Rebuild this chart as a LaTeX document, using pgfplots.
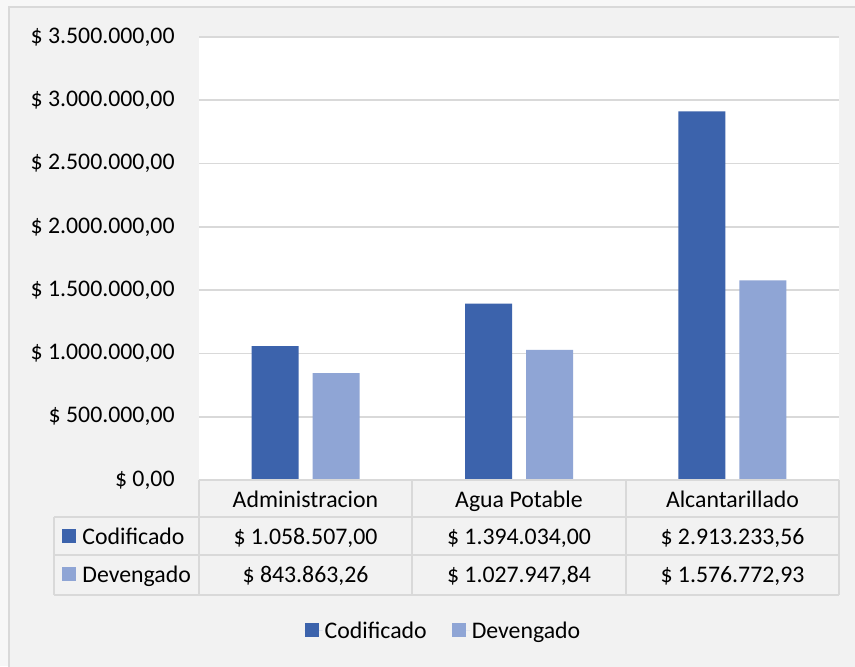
\documentclass[border=0pt]{standalone}
\usepackage{pgfplots}
\pgfplotsset{compat=1.18}
\usepackage{fontspec}
\setmainfont{Carlito}
\definecolor{codif}{RGB}{60,99,172}
\definecolor{deven}{RGB}{143,165,213}
\definecolor{chartbg}{RGB}{242,242,242}
\definecolor{gridc}{RGB}{217,217,217}
\begin{document}
\fontsize{11.9}{14.3}\selectfont
\begin{tikzpicture}
% background, in pixel units of the reference (1px = 0.5pt)
\begin{scope}[x=0.5pt,y=-0.5pt]
\useasboundingbox (0,0) rectangle (855,666);
\fill[white!97!black] (0,0) rectangle (855,666);
\filldraw[fill=chartbg, draw=gridc, line width=1pt] (9,7) rectangle (875,690);
\end{scope}

\begin{axis}[
    at={(99.5pt,-240pt)}, anchor=south west,
    width=320pt, height=221.5pt, scale only axis,
    ybar,
    xmin=0, xmax=3,
    ymin=0, ymax=3500000,
    xtick=\empty,
    ytick={0,500000,1000000,1500000,2000000,2500000,3000000,3500000},
    yticklabels={{\$ 0,00},{\$ 500.000,00},{\$ 1.000.000,00},{\$ 1.500.000,00},
                 {\$ 2.000.000,00},{\$ 2.500.000,00},{\$ 3.000.000,00},{\$ 3.500.000,00}},
    scaled y ticks=false,
    yticklabel style={anchor=east, inner sep=0pt, xshift=-12pt},
    ymajorgrids,
    grid style={gridc, line width=0.9pt},
    axis line style={draw=none},
    major tick length=0pt,
    axis background/.style={fill=white},
    bar width=23.5pt,
    clip=false,
    legend style={
        at={(0.382,-0.339)}, anchor=center,
        legend columns=2, draw=none, fill=none,
        /tikz/every even column/.append style={column sep=11.5pt},
        nodes={inner sep=1pt, text depth=0pt},
        font=\fontsize{11.9}{14.3}\selectfont
    },
    legend image code/.code={
        \path (0pt,0pt) -- (9pt,0pt);
        \fill[#1] (0pt,-3.5pt) rectangle (7pt,3.5pt);}
]
\addplot[fill=codif, draw=none, bar shift=-15.25pt] coordinates {
    (0.5,1058507.00) (1.5,1394034.00) (2.5,2913233.56)};
\addplot[fill=deven, draw=none, bar shift=15.25pt] coordinates {
    (0.5,843863.26) (1.5,1027947.84) (2.5,1576772.93)};
\legend{Codificado, Devengado}
\end{axis}

% data table below the plot area
\begin{scope}[x=0.5pt,y=-0.5pt]
\draw[gridc, line width=1pt] (199,480) -- (839,480)
    (54,517) -- (839,517) (54,555) -- (839,555) (54,595) -- (839,595)
    (54,517) -- (54,595)
    (199,480) -- (199,595) (412,480) -- (412,595)
    (626,480) -- (626,595) (839,480) -- (839,595);
\node[anchor=base, inner sep=0pt] at (305.5,507) {Administracion};
\node[anchor=base, inner sep=0pt] at (519,507) {Agua Potable};
\node[anchor=base, inner sep=0pt] at (732.5,507) {Alcantarillado};
\fill[codif] (62,529) rectangle (76,543);
\node[anchor=base west, inner sep=0pt] at (82,544) {Codificado};
\fill[deven] (62,567) rectangle (76,581);
\node[anchor=base west, inner sep=0pt] at (82,582) {Devengado};
\node[anchor=base, inner sep=0pt] at (305.5,544) {\$ 1.058.507,00};
\node[anchor=base, inner sep=0pt] at (519,544) {\$ 1.394.034,00};
\node[anchor=base, inner sep=0pt] at (732.5,544) {\$ 2.913.233,56};
\node[anchor=base, inner sep=0pt] at (305.5,582) {\$ 843.863,26};
\node[anchor=base, inner sep=0pt] at (519,582) {\$ 1.027.947,84};
\node[anchor=base, inner sep=0pt] at (732.5,582) {\$ 1.576.772,93};
\end{scope}
\end{tikzpicture}
\end{document}
